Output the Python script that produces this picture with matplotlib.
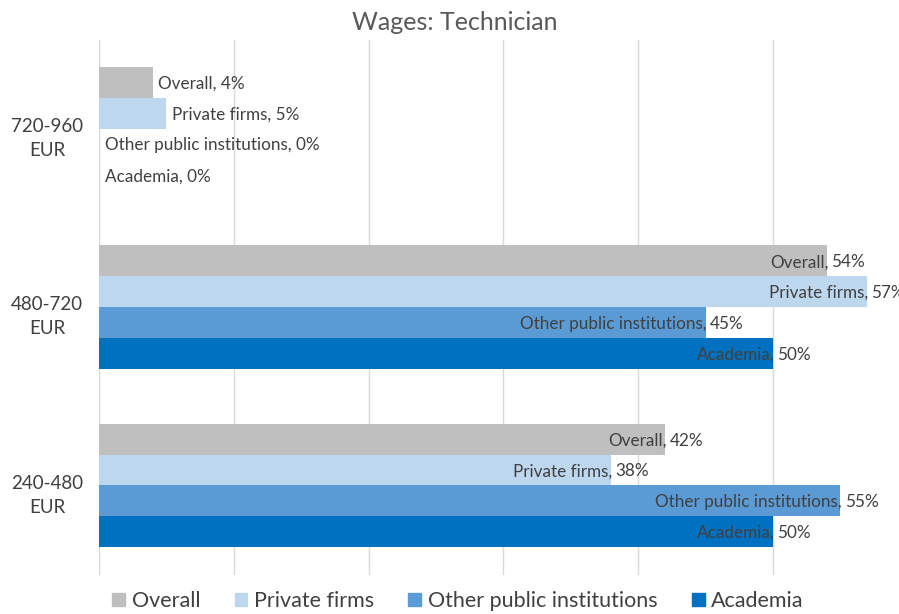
import matplotlib
matplotlib.use("Agg")
import matplotlib.pyplot as plt
import matplotlib.transforms as mtransforms
import numpy as np

plt.rcParams['font.family'] = ['Lato', 'DejaVu Sans']

categories = ['240-480\nEUR', '480-720\nEUR', '720-960\nEUR']
series = ['Overall', 'Private firms', 'Other public institutions', 'Academia']
values = {
    'Overall': [0.42, 0.54, 0.04],
    'Private firms': [0.38, 0.57, 0.05],
    'Other public institutions': [0.55, 0.45, 0.00],
    'Academia': [0.50, 0.50, 0.00],
}
colors = ['#bfbfbf', '#bdd7ee', '#5b9bd5', '#0070c0']

fig = plt.figure(figsize=(8.99, 6.14), dpi=100)
ax = fig.add_axes([99 / 899, 1 - 574.5 / 614, 808.8 / 899, 535 / 614])

y = np.arange(len(categories))
h = 0.1725
txt_col = '#404040'
fs = 12.3
for i, (name, col) in enumerate(zip(series, colors)):
    pos = y + (1.5 - i) * h
    vals = values[name]
    ax.barh(pos, vals, height=h, color=col, zorder=2)
    for yy, v in zip(pos, vals):
        if v >= 0.1:
            ax.annotate(name + ',', (v, yy), xytext=(1, -1), textcoords='offset points',
                        ha='right', va='center', fontsize=fs, color=txt_col)
            ax.annotate(f'{v:.0%}', (v, yy), xytext=(3, -1), textcoords='offset points',
                        ha='left', va='center', fontsize=fs, color=txt_col)
        else:
            ax.annotate(f'{name}, {v:.0%}', (v, yy), xytext=(4, -1), textcoords='offset points',
                        ha='left', va='center', fontsize=fs, color=txt_col)

ax.set_xlim(0, 0.6)
ax.set_ylim(-0.5, 2.5)
ax.set_xticks(np.arange(0, 0.61, 0.1))
ax.set_xticklabels([])
ax.tick_params(axis='x', length=0)
ax.set_yticks(y)
ax.set_yticklabels([])
ax.tick_params(axis='y', length=0)
ax.grid(axis='x', color='#d9d9d9', linewidth=1, zorder=0)
for s in ax.spines.values():
    s.set_visible(False)

# category labels, placed left of the axis
trans = mtransforms.blended_transform_factory(ax.transAxes, ax.transData)
for yy, lab in zip(y, categories):
    ax.annotate(lab, (0, yy), xycoords=trans, xytext=(-52 * 0.72, -7), textcoords='offset points',
                ha='center', va='center', fontsize=13.5, color=txt_col,
                linespacing=1.5, annotation_clip=False)

fig.text(455 / 899, 1 - 23 / 614, 'Wages: Technician', ha='center', va='center',
         fontsize=18, color='#595959')

handles = [plt.Rectangle((0, 0), 1, 1, color=c) for c in colors]
fig.legend(handles, series, loc='center', bbox_to_anchor=(458 / 899, 1 - 601 / 614),
           ncol=4, frameon=False, fontsize=15.5, handlelength=0.6, handleheight=0.6,
           handletextpad=0.3, columnspacing=1.6, labelcolor='#404040')

fig.savefig('out.png', dpi=100)
